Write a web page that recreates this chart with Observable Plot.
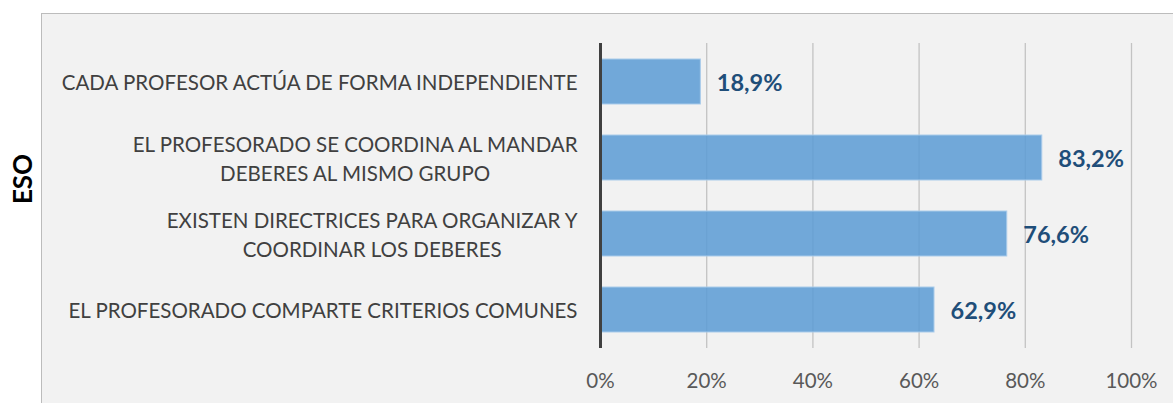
<!DOCTYPE html>
<html>
<head>
<meta charset="utf-8">
<script src="https://cdn.jsdelivr.net/npm/d3@7"></script>
<script src="https://cdn.jsdelivr.net/npm/@observablehq/plot@0.6"></script>
<style>
  html, body { margin: 0; padding: 0; background: #ffffff; }
  #wrap { position: relative; width: 1173px; height: 403px; overflow: hidden; }
  #panel { position: absolute; left: 41px; top: 13px; width: 1140px; height: 400px;
           background: #f2f2f2; border-left: 1px solid #bcbcbc; border-top: 1px solid #bcbcbc; }
  #side { position: absolute; left: 22px; top: 179px; transform: translate(-50%, -50%) rotate(-90deg);
          font-family: Lato, sans-serif; font-weight: bold; font-size: 26px; color: #000; white-space: nowrap; }
  #chart { position: absolute; left: 0; top: 0; }
</style>
</head>
<body>
<div id="wrap">
  <div id="panel"></div>
  <div id="side">ESO</div>
  <div id="chart"></div>
</div>
<script>
const categories = [
  "CADA PROFESOR ACTÚA DE FORMA INDEPENDIENTE",
  "EL PROFESORADO SE COORDINA AL MANDAR\nDEBERES AL MISMO GRUPO",
  "EXISTEN DIRECTRICES PARA ORGANIZAR Y\nCOORDINAR LOS DEBERES",
  "EL PROFESORADO COMPARTE CRITERIOS COMUNES"
];
const values = [18.9, 83.2, 76.6, 62.9];
const xTicks = [0, 20, 40, 60, 80, 100];

const data = categories.map((c, i) => ({label: c, value: values[i]}));
const fmt = v => v.toFixed(1).replace(".", ",") + "%";

const chart = Plot.plot({
  width: 1173,
  height: 403,
  marginLeft: 600,
  marginRight: 42,
  marginTop: 43,
  marginBottom: 55,
  style: {background: "transparent", fontFamily: "Lato, sans-serif", fontSize: "20.5px", color: "#595959"},
  x: {domain: [0, 100], label: null},
  y: {domain: categories, paddingInner: 0.41, paddingOuter: 0.2, label: null, axis: null},
  marks: [
    Plot.gridX(xTicks, {stroke: "#c3c3c3", strokeOpacity: 1, strokeWidth: 1.3}),
    Plot.barX(data, {y: "label", x: "value", fill: "#5b9bd5", fillOpacity: 0.85, stroke: "#a9cbea", strokeWidth: 1}),
    Plot.ruleX([0], {stroke: "#404040", strokeWidth: 3}),
    Plot.text(data, {y: "label", x: 0, text: "label", dx: -23, dy: -1, textAnchor: "end", lineHeight: 1.4,
                     fill: "#404040", fontSize: 20.5}),
    Plot.text(data, {y: "label", x: "value", text: d => fmt(d.value), dx: 16, dy: 1, textAnchor: "start",
                     fill: "#1f4e79", fontWeight: "bold", fontSize: 23.5}),
    Plot.axisX(xTicks, {tickSize: 0, tickPadding: 25, tickFormat: d => d + "%", label: null})
  ]
});
document.getElementById("chart").appendChild(chart);

// center the lines of multi-line category labels within their block
chart.querySelectorAll("text").forEach(t => {
  const spans = t.querySelectorAll("tspan");
  if (spans.length > 1) {
    const b = t.getBBox();
    spans.forEach(s => {
      s.setAttribute("x", b.x + b.width / 2);
      s.setAttribute("text-anchor", "middle");
    });
  }
});
</script>
</body>
</html>
